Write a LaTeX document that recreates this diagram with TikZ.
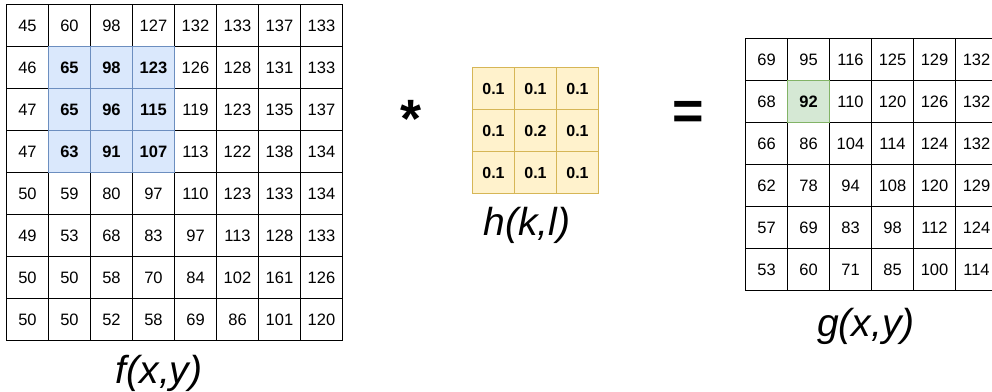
\documentclass[tikz,border=0pt]{standalone}
\usepackage{fontspec}
\setmainfont{Liberation Sans}
\definecolor{bluefill}{HTML}{DAE8FC}
\definecolor{blueline}{HTML}{6C8EBF}
\definecolor{yellowfill}{HTML}{FFF2CC}
\definecolor{yellowline}{HTML}{D6B656}
\definecolor{greenfill}{HTML}{D5E8D4}
\definecolor{greenline}{HTML}{82B366}
\begin{document}
\begin{tikzpicture}[x=1pt,y=-1pt,
  cell/.style={draw=black,line width=1pt,minimum width=42pt,minimum height=42pt,
    inner sep=0pt,outer sep=0pt,font=\fontsize{16.5}{17}\selectfont},
  hlcell/.style={cell,draw=blueline,fill=bluefill,font=\fontsize{16.5}{17}\selectfont\bfseries},
  kcell/.style={cell,draw=yellowline,fill=yellowfill,font=\fontsize{16}{17}\selectfont\bfseries},
  gcell/.style={cell,draw=greenline,fill=greenfill,font=\fontsize{16.5}{17}\selectfont\bfseries},
  biglabel/.style={font=\fontsize{39}{39}\selectfont\itshape},
  opsym/.style={font=\fontsize{54}{54}\selectfont\bfseries}]
\useasboundingbox (0,0) rectangle (992,391);
\clip (0,0) rectangle (992,391);
% f(x,y) grid: normal cells
\foreach \row [count=\r from 0] in {{45,60,98,127,132,133,137,133},{46,65,98,123,126,128,131,133},{47,65,96,115,119,123,135,137},{47,63,91,107,113,122,138,134},{50,59,80,97,110,123,133,134},{49,53,68,83,97,113,128,133},{50,50,58,70,84,102,161,126},{50,50,52,58,69,86,101,120}} {
  \foreach \v [count=\c from 0] in \row {
    \pgfmathtruncatemacro\hi{and(and(\r>0,\r<4),and(\c>0,\c<4))}
    \ifnum\hi=0
      \node[cell] (f-\r-\c) at ({6.5+42*(\c+0.5)},{4.5+42*(\r+0.5)}) {\v};
    \fi
  }
}
% f(x,y) grid: highlighted cells
\foreach \row [count=\r from 0] in {{45,60,98,127,132,133,137,133},{46,65,98,123,126,128,131,133},{47,65,96,115,119,123,135,137},{47,63,91,107,113,122,138,134}} {
  \foreach \v [count=\c from 0] in \row {
    \pgfmathtruncatemacro\hi{and(and(\r>0,\r<4),and(\c>0,\c<4))}
    \ifnum\hi=1
      \node[hlcell] (f-\r-\c) at ({6.5+42*(\c+0.5)},{4.5+42*(\r+0.5)}) {\v};
    \fi
  }
}
% kernel h(k,l)
\foreach \row [count=\r from 0] in {{0.1,0.1,0.1},{0.1,0.2,0.1},{0.1,0.1,0.1}} {
  \foreach \v [count=\c from 0] in \row {
    \node[kcell] (h-\r-\c) at ({472.5+42*(\c+0.5)},{67.5+42*(\r+0.5)}) {\v};
  }
}
% g(x,y) grid
\foreach \row [count=\r from 0] in {{69,95,116,125,129,132},{68,92,110,120,126,132},{66,86,104,114,124,132},{62,78,94,108,120,129},{57,69,83,98,112,124},{53,60,71,85,100,114}} {
  \foreach \v [count=\c from 0] in \row {
    \pgfmathtruncatemacro\hi{and(\r==1,\c==1)}
    \ifnum\hi=0
      \node[cell] (g-\r-\c) at ({745.5+42*(\c+0.5)},{38.5+42*(\r+0.5)}) {\v};
    \fi
  }
}
\node[gcell] (g-1-1) at ({745.5+42*1.5},{38.5+42*1.5}) {92};
% labels and operators
\node[biglabel] (flabel) at (159,373) {f(x,y)};
\node[biglabel] (hlabel) at (527,225) {h(k,l)};
\node[biglabel] (glabel) at (866,326) {g(x,y)};
\node[opsym] (star) at (411,119) {*};
\node[opsym] (eq) at (688,115) {=};
\end{tikzpicture}
\end{document}
